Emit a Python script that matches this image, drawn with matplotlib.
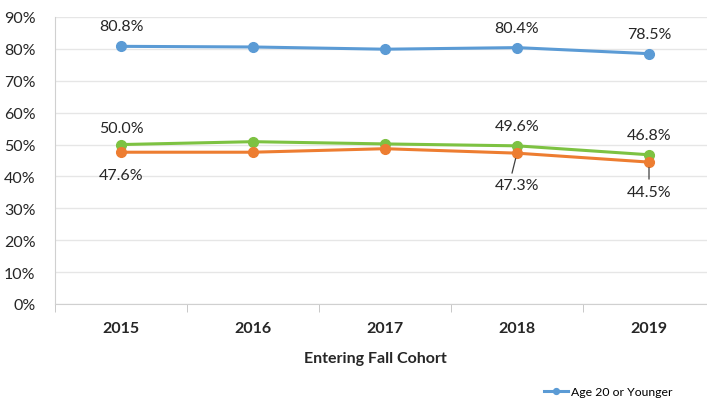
import numpy as np
import matplotlib.pyplot as plt

years = ['2015', '2016', '2017', '2018', '2019']
age20 = [80.8, 80.6, 79.9, 80.4, 78.5]
green_vals = [50.0, 50.9, 50.2, 49.6, 46.8]
orange_vals = [47.6, 47.6, 48.7, 47.3, 44.5]

# which points get a label, and the label offset in pixels
labels_blue = {0: (0, 20), 3: (0, 20), 4: (0, 20)}
labels_green = {0: (0, 17), 3: (0, 20), 4: (0, 20)}
labels_orange = {0: (0, -23), 3: (0, -32), 4: (0, -30)}

plt.rcParams['font.family'] = ['Lato', 'DejaVu Sans']

fig = plt.figure(figsize=(7.07, 4.02), dpi=100)
ax = fig.add_axes([55 / 707, 1 - 305 / 402, 660 / 707, 287 / 402])

x = np.arange(len(years))
blue_c = '#5B9BD5'
green_c = '#7DC242'
orange_c = '#ED7D31'

ax.plot(x, age20, color=blue_c, lw=2.2, marker='o', ms=7, label='Age 20 or Younger', zorder=3)
ax.plot(x, green_vals, color=green_c, lw=2.2, marker='o', ms=7, zorder=3)
ax.plot(x, orange_vals, color=orange_c, lw=2.2, marker='o', ms=7, zorder=3)

def put_labels(vals, spec):
    for i, (dx, dy) in spec.items():
        ax.annotate(f'{vals[i]:.1f}%', (x[i], vals[i]), xytext=(dx, dy),
                    textcoords='offset pixels', ha='center', va='center',
                    fontsize=11.5, color='#262626')

put_labels(age20, labels_blue)
put_labels(green_vals, labels_green)
put_labels(orange_vals, labels_orange)

# leader lines for the crowded labels
for i, (dx, dy) in {3: (-5, -20), 4: (0, -17)}.items():
    ax.annotate('', (x[i], orange_vals[i]), xytext=(dx, dy),
                textcoords='offset pixels',
                arrowprops=dict(arrowstyle='-', color='#404040', lw=0.9,
                                shrinkA=0, shrinkB=4))

ax.set_xlim(-0.5, 4.5)
ax.set_ylim(0, 90)
ax.set_yticks(np.arange(0, 91, 10))
ax.set_yticklabels([f'{v}%' for v in range(0, 91, 10)], fontsize=11.5, color='#262626')
ax.set_xticks(x)
ax.set_xticklabels(years, fontsize=11.5, fontweight='bold', color='#262626')
ax.set_xticks(np.arange(-0.5, 5.0, 1), minor=True)
ax.tick_params(axis='x', which='major', length=0, pad=12)
ax.tick_params(axis='x', which='minor', length=6, color='#BFBFBF', direction='out')
ax.tick_params(axis='y', length=0, pad=14)
ax.grid(axis='y', color='#E6E6E6', lw=1)
ax.set_axisbelow(True)
for s in ['top', 'right']:
    ax.spines[s].set_visible(False)
ax.spines['left'].set_color('#D0D0D0')
ax.spines['bottom'].set_color('#D0D0D0')

ax.set_xlabel('Entering Fall Cohort', fontsize=11.5, fontweight='bold', color='#262626')
ax.xaxis.set_label_coords((375 - 55) / 660, -0.165)

fig.legend(loc='center left', bbox_to_anchor=(533 / 707, 1 - 393 / 402), frameon=False,
           fontsize=8.8, handlelength=2.0, handletextpad=0.2, markerscale=0.6)

fig.savefig('out.png', dpi=100)
